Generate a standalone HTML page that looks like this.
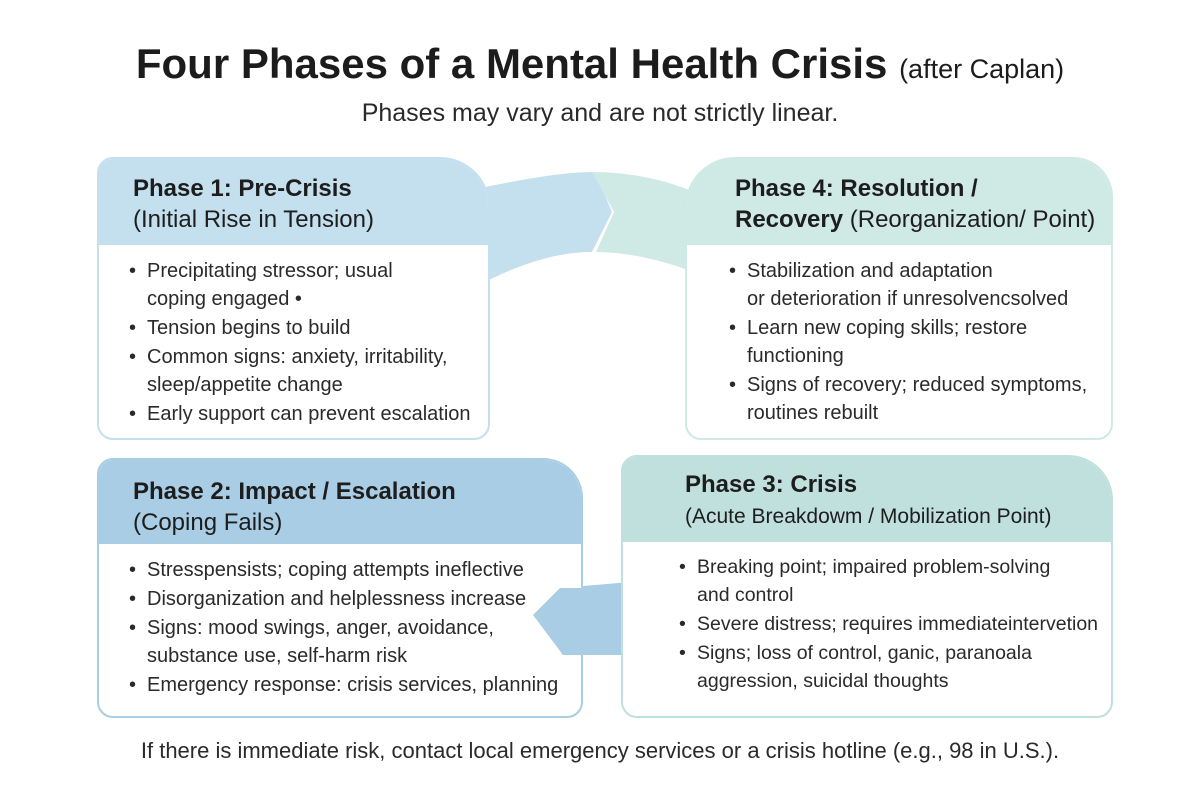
<!DOCTYPE html>
<html><head><meta charset="utf-8"><style>
*{margin:0;padding:0;box-sizing:border-box}
body{width:1200px;height:800px;background:#fff;font-family:"Liberation Sans",sans-serif;color:#222;position:relative;overflow:hidden}
.t{position:absolute;left:0;width:1200px;text-align:center;white-space:nowrap}
.card{position:absolute;border:2px solid;border-radius:16px;background:#fff;overflow:hidden}
.hd{position:absolute;left:0;right:0;top:0;padding:14px 0 0 34px;font-size:24px;line-height:31px;color:#1d1d1d;white-space:nowrap}
.hd b{font-weight:bold}
ul{position:absolute;left:30px;list-style:none;font-size:20px;line-height:28px;color:#2a2a2a;white-space:nowrap}
li{padding-left:18px;position:relative;margin-bottom:1px}
li:before{content:"•";position:absolute;left:0}
</style></head><body>
<div class="t" style="top:40px;font-size:42px;font-weight:bold;color:#1c1c1c">Four Phases of a Mental Health Crisis <span style="font-size:27px;font-weight:normal">(after Caplan)</span></div>
<div class="t" style="top:99px;font-size:25px;color:#2a2a2a">Phases may vary and are not strictly linear.</div>

<svg style="position:absolute;left:0;top:0" width="1200" height="800">
<path d="M470,190 C520,180 560,172 595,172 L612,212 L592,252 C560,252 520,262 470,290 Z" fill="#c4e0ef"/>
<path d="M592,172 C640,172 680,185 700,195 L700,275 C670,262 630,252 596,252 L614,212 Z" fill="#cfe9e4"/>
<path d="M630,582 L560,588 L533,615 L563,655 L630,655 Z" fill="#a9cde4"/>
</svg>

<div class="card" style="left:97px;top:157px;width:393px;height:283px;border-color:#c4e0ef;border-top-right-radius:50px">
<div class="hd" style="height:86px;background:#c4e0ef"><b>Phase 1: Pre-Crisis</b><br>(Initial Rise in Tension)</div>
<ul style="top:98px"><li>Precipitating stressor; usual<br>coping engaged •</li><li>Tension begins to build</li><li>Common signs: anxiety, irritability,<br>sleep/appetite change</li><li>Early support can prevent escalation</li></ul>
</div>

<div class="card" style="left:685px;top:157px;width:428px;height:283px;border-color:#cfe9e4;border-top-left-radius:50px;border-top-right-radius:40px">
<div class="hd" style="height:86px;background:#cfe9e4;padding-left:48px"><b>Phase 4: Resolution /</b><br><b>Recovery</b> (Reorganization/ Point)</div>
<ul style="top:98px;left:42px"><li>Stabilization and adaptation<br>or deterioration if unresolvencsolved</li><li>Learn new coping skills; restore<br>functioning</li><li>Signs of recovery; reduced symptoms,<br>routines rebuilt</li></ul>
</div>

<div class="card" style="left:97px;top:458px;width:486px;height:260px;border-color:#a9cde4;border-top-right-radius:40px">
<div class="hd" style="height:84px;background:#a9cde4;padding-top:16px"><b>Phase 2: Impact / Escalation</b><br>(Coping Fails)</div>
<ul style="top:96px"><li>Stresspensists; coping attempts ineflective</li><li>Disorganization and helplessness increase</li><li>Signs: mood swings, anger, avoidance,<br>substance use, self-harm risk</li><li>Emergency response: crisis services, planning</li></ul>
</div>

<div class="card" style="left:621px;top:455px;width:492px;height:263px;border-color:#bfe0dd;border-top-right-radius:45px">
<div class="hd" style="height:85px;background:#bfe0dd;padding-left:62px;padding-top:12px"><b>Phase 3: Crisis</b><br><span style="font-size:21px">(Acute Breakdowm / Mobilization Point)</span></div>
<ul style="top:96px;left:56px;font-size:19.5px"><li>Breaking point; impaired problem-solving<br>and control</li><li>Severe distress; requires immediateintervetion</li><li>Signs; loss of control, ganic, paranoala<br>aggression, suicidal thoughts</li></ul>
</div>

<svg style="position:absolute;left:0;top:0" width="1200" height="800"><path d="M583,588 L560,588 L533,615 L563,655 L583,655" fill="#a9cde4"/></svg>

<div class="t" style="top:738px;font-size:22px;color:#2a2a2a">If there is immediate risk, contact local emergency services or a crisis hotline (e.g., 98 in U.S.).</div>
</body></html>
